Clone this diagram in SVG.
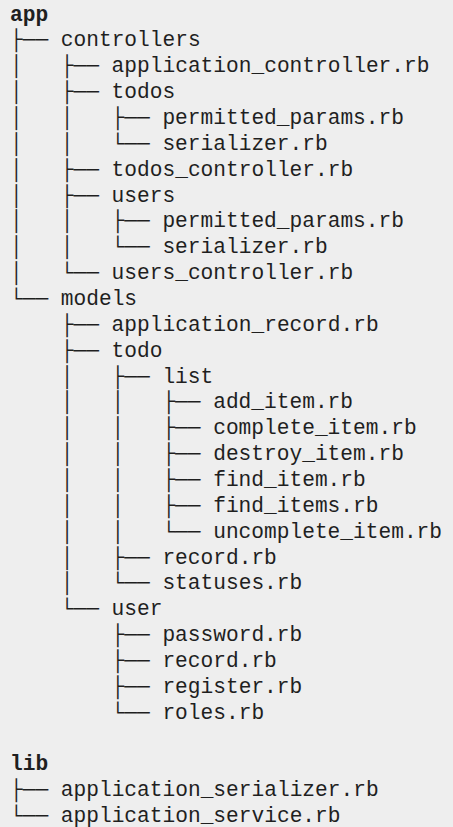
<svg xmlns="http://www.w3.org/2000/svg" width="453" height="827" viewBox="0 0 453 827">
<style>
text{font-family:"Liberation Mono","DejaVu Sans Mono",monospace;font-size:21.2px;fill:#1f1f1f}
.b{font-weight:bold}
</style>
<rect x="0" y="0" width="453" height="827" fill="#eeeeee"/>
<g id="connectors">
<text x="10" y="46.4">├──</text>
<text x="10 60.8" y="72.2">│├──</text>
<text x="10 60.8" y="98.1">│├──</text>
<text x="10 60.8 111.6" y="123.9">││├──</text>
<text x="10 60.8 111.6" y="149.8">││└──</text>
<text x="10 60.8" y="175.7">│├──</text>
<text x="10 60.8" y="201.5">│├──</text>
<text x="10 60.8 111.6" y="227.4">││├──</text>
<text x="10 60.8 111.6" y="253.2">││└──</text>
<text x="10 60.8" y="279.1">│└──</text>
<text x="10" y="305">└──</text>
<text x="60.8" y="330.8">├──</text>
<text x="60.8" y="356.7">├──</text>
<text x="60.8 111.6" y="382.5">│├──</text>
<text x="60.8 111.6 162.4" y="408.4">││├──</text>
<text x="60.8 111.6 162.4" y="434.3">││├──</text>
<text x="60.8 111.6 162.4" y="460.1">││├──</text>
<text x="60.8 111.6 162.4" y="486">││├──</text>
<text x="60.8 111.6 162.4" y="511.8">││├──</text>
<text x="60.8 111.6 162.4" y="537.7">││└──</text>
<text x="60.8 111.6" y="563.6">│├──</text>
<text x="60.8 111.6" y="589.4">│└──</text>
<text x="60.8" y="615.3">└──</text>
<text x="111.6" y="641.1">├──</text>
<text x="111.6" y="667">├──</text>
<text x="111.6" y="692.9">├──</text>
<text x="111.6" y="718.7">└──</text>
<text x="10" y="796.3">├──</text>
<text x="10" y="822.2">└──</text>
</g>
<g id="app"><text class="b" x="10" y="20.5">app</text></g>
<g id="controllers"><text x="60.8" y="46.4">controllers</text></g>
<g id="application_controller"><text x="111.6" y="72.2">application_controller.rb</text></g>
<g id="controllers_todos"><text x="111.6" y="98.1">todos</text></g>
<g id="todos_permitted_params"><text x="162.4" y="123.9">permitted_params.rb</text></g>
<g id="todos_serializer"><text x="162.4" y="149.8">serializer.rb</text></g>
<g id="todos_controller"><text x="111.6" y="175.7">todos_controller.rb</text></g>
<g id="controllers_users"><text x="111.6" y="201.5">users</text></g>
<g id="users_permitted_params"><text x="162.4" y="227.4">permitted_params.rb</text></g>
<g id="users_serializer"><text x="162.4" y="253.2">serializer.rb</text></g>
<g id="users_controller"><text x="111.6" y="279.1">users_controller.rb</text></g>
<g id="models"><text x="60.8" y="305">models</text></g>
<g id="application_record"><text x="111.6" y="330.8">application_record.rb</text></g>
<g id="todo"><text x="111.6" y="356.7">todo</text></g>
<g id="list"><text x="162.4" y="382.5">list</text></g>
<g id="add_item"><text x="213.2" y="408.4">add_item.rb</text></g>
<g id="complete_item"><text x="213.2" y="434.3">complete_item.rb</text></g>
<g id="destroy_item"><text x="213.2" y="460.1">destroy_item.rb</text></g>
<g id="find_item"><text x="213.2" y="486">find_item.rb</text></g>
<g id="find_items"><text x="213.2" y="511.8">find_items.rb</text></g>
<g id="uncomplete_item"><text x="213.2" y="537.7">uncomplete_item.rb</text></g>
<g id="todo_record"><text x="162.4" y="563.6">record.rb</text></g>
<g id="statuses"><text x="162.4" y="589.4">statuses.rb</text></g>
<g id="user"><text x="111.6" y="615.3">user</text></g>
<g id="password"><text x="162.4" y="641.1">password.rb</text></g>
<g id="user_record"><text x="162.4" y="667">record.rb</text></g>
<g id="register"><text x="162.4" y="692.9">register.rb</text></g>
<g id="roles"><text x="162.4" y="718.7">roles.rb</text></g>
<g id="lib"><text class="b" x="10" y="770.4">lib</text></g>
<g id="application_serializer"><text x="60.8" y="796.3">application_serializer.rb</text></g>
<g id="application_service"><text x="60.8" y="822.2">application_service.rb</text></g>
</svg>
